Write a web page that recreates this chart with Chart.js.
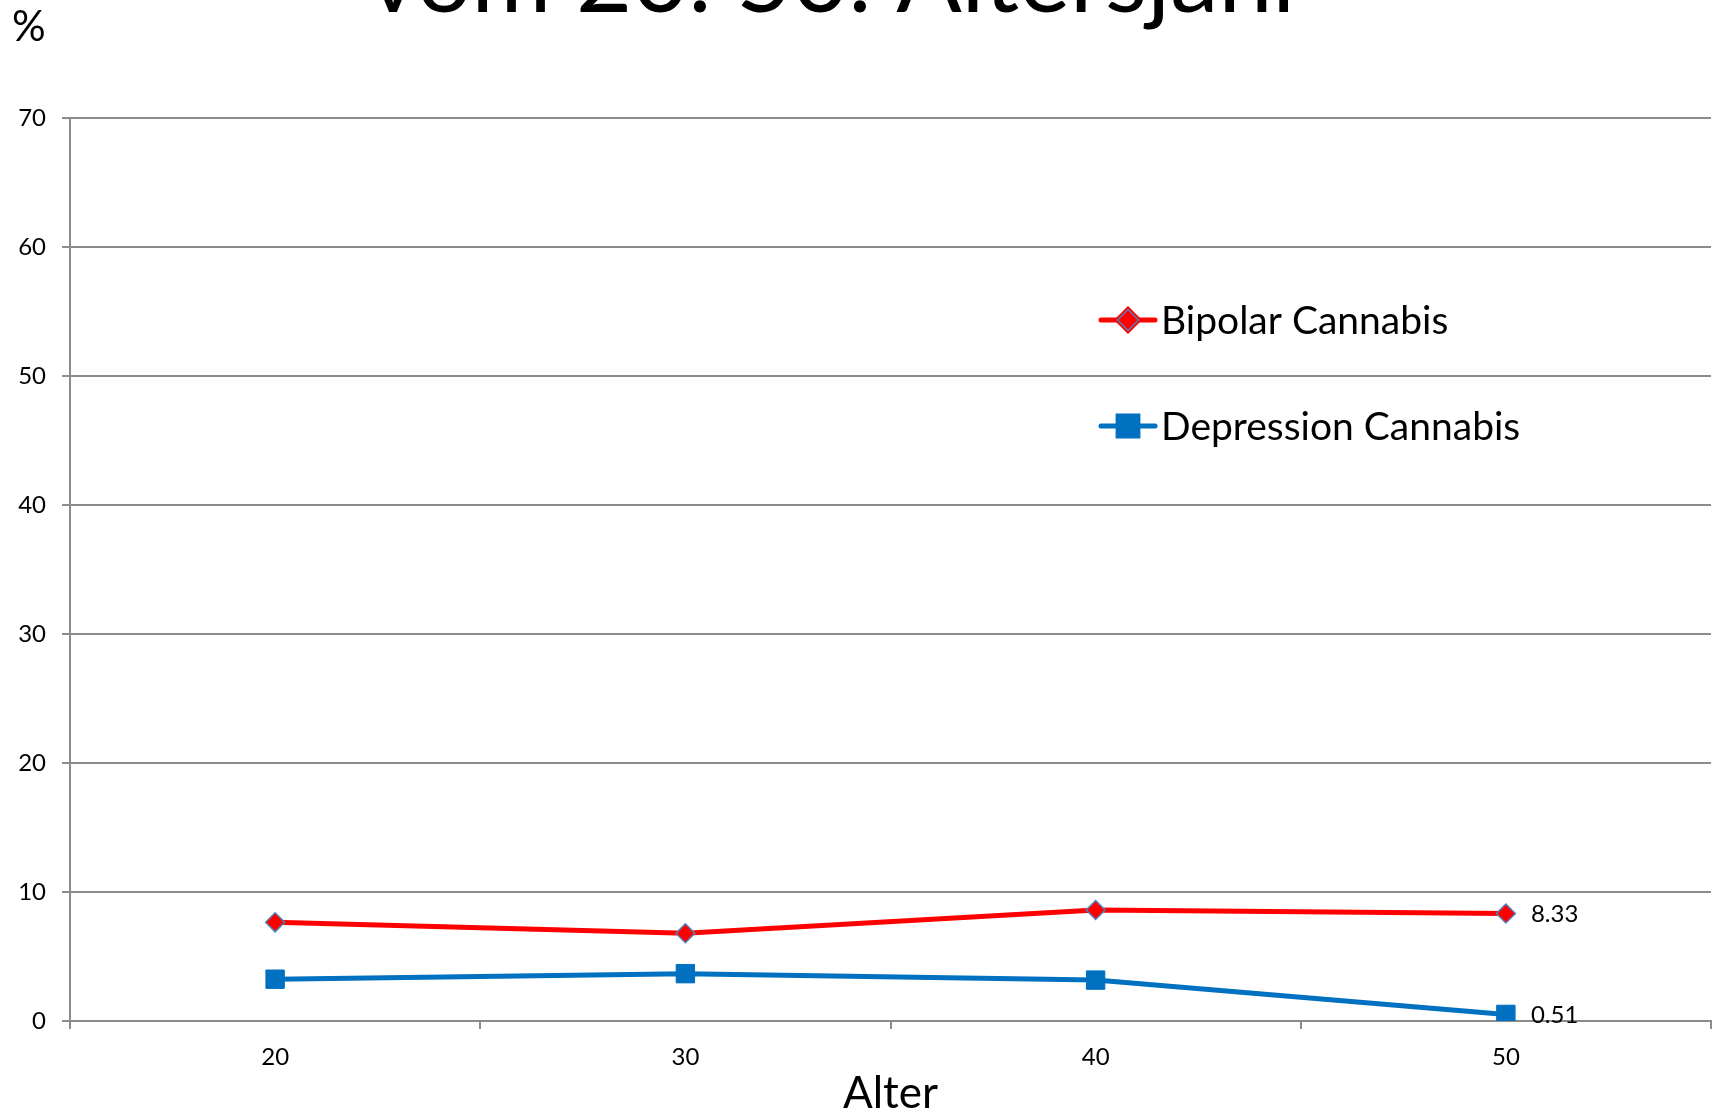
<!DOCTYPE html>
<html>
<head>
<meta charset="utf-8">
<title>Cannabis – vom 20. 50. Altersjahr</title>
<script src="https://cdn.jsdelivr.net/npm/chart.js@4/dist/chart.umd.min.js"></script>
<style>
  html, body { margin: 0; padding: 0; background: #ffffff; }
  #wrap { width: 1725px; height: 1112px; position: relative; }
</style>
</head>
<body>
<div id="wrap"><canvas id="chart" width="1725" height="1112"></canvas></div>
<script>
// Age groups (x categories)
const ages = ['20', '30', '40', '50'];

// Percentages per age group
const bipolarCannabis = [7.65, 6.8, 8.6, 8.33];
const depressionCannabis = [3.24, 3.67, 3.17, 0.51];

// Y axis range and step
const yMin = 0;
const yMax = 70;
const yStep = 10;

const chartTitle = 'vom 20. 50. Altersjahr';
const yUnit = '%';
const xTitle = 'Alter';

const FONT = 'Lato, "Open Sans", "Noto Sans", sans-serif';
const GRID = '#8c8c8c';

// Title (running off the top edge) and the unit sign
const headerPlugin = {
  id: 'header',
  afterDraw(chart) {
    const ctx = chart.ctx;
    ctx.save();
    ctx.fillStyle = '#000';
    ctx.textBaseline = 'alphabetic';
    ctx.textAlign = 'left';
    ctx.font = '100px ' + FONT;
    const w = ctx.measureText(chartTitle).width;
    const size = 100 * 940 / w;
    ctx.font = size.toFixed(1) + 'px ' + FONT;
    ctx.fillText(chartTitle, 368, 12);
    ctx.font = '42px ' + FONT;
    ctx.fillText(yUnit, 12, 41);
    ctx.restore();
  }
};

// Legend drawn inside the plot area, upper right
const innerLegend = {
  id: 'innerLegend',
  afterDraw(chart) {
    const ctx = chart.ctx;
    const x0 = 1101, x1 = 1155, tx = 1161;
    const rows = [320, 426];
    ctx.save();
    chart.data.datasets.forEach((ds, i) => {
      const y = rows[i];
      ctx.strokeStyle = ds.borderColor;
      ctx.lineWidth = ds.borderWidth;
      ctx.lineCap = 'round';
      ctx.beginPath();
      ctx.moveTo(x0, y);
      ctx.lineTo(x1, y);
      ctx.stroke();
      Chart.helpers.drawPoint(ctx, {
        pointStyle: ds.pointStyle,
        radius: ds.pointRadius + 1,
        borderWidth: ds.pointBorderWidth
      }, (x0 + x1) / 2, y);
      ctx.fillStyle = ds.pointBackgroundColor;
      ctx.strokeStyle = ds.pointBorderColor;
      ctx.lineWidth = ds.pointBorderWidth;
      ctx.fill();
      ctx.stroke();
      ctx.fillStyle = '#000';
      ctx.font = '39px ' + FONT;
      ctx.textAlign = 'left';
      ctx.textBaseline = 'middle';
      ctx.fillText(ds.label, tx, y + 1);
    });
    ctx.restore();
  }
};

// Value label next to the last point of each series
const lastValueLabels = {
  id: 'lastValueLabels',
  afterDatasetsDraw(chart) {
    const ctx = chart.ctx;
    ctx.save();
    ctx.fillStyle = '#000';
    ctx.font = '24px ' + FONT;
    ctx.textAlign = 'left';
    ctx.textBaseline = 'middle';
    chart.data.datasets.forEach((ds, i) => {
      const meta = chart.getDatasetMeta(i);
      const last = meta.data.length - 1;
      const pt = meta.data[last];
      ctx.fillText(ds.data[last].toFixed(2), pt.x + 25, pt.y + 1);
    });
    ctx.restore();
  }
};

new Chart(document.getElementById('chart'), {
  type: 'line',
  data: {
    labels: ages,
    datasets: [
      {
        label: 'Bipolar Cannabis',
        data: bipolarCannabis,
        borderColor: '#ff0000',
        borderWidth: 5,
        pointStyle: 'rectRot',
        pointRadius: 9.5,
        pointHoverRadius: 9.5,
        pointBackgroundColor: '#ff0000',
        pointBorderColor: '#4f81bd',
        pointBorderWidth: 1.5,
        tension: 0
      },
      {
        label: 'Depression Cannabis',
        data: depressionCannabis,
        borderColor: '#0070c0',
        borderWidth: 5,
        pointStyle: 'rect',
        pointRadius: 13,
        pointHoverRadius: 13,
        pointBackgroundColor: '#0070c0',
        pointBorderColor: '#0070c0',
        pointBorderWidth: 1,
        tension: 0
      }
    ]
  },
  options: {
    responsive: false,
    animation: false,
    layout: { padding: { top: 118, right: 11, left: 0, bottom: 0 } },
    plugins: {
      legend: { display: false },
      tooltip: { enabled: false },
      title: { display: false }
    },
    scales: {
      x: {
        type: 'category',
        offset: true,
        grid: {
          offset: true,
          drawOnChartArea: false,
          drawTicks: true,
          tickLength: 8,
          color: GRID,
          lineWidth: 2
        },
        border: { display: true, color: GRID, width: 2 },
        ticks: {
          color: '#000',
          font: { family: FONT, size: 24 },
          padding: 14,
          maxRotation: 0
        },
        title: {
          display: true,
          text: xTitle,
          color: '#000',
          font: { family: FONT, size: 44, lineHeight: 0.82 },
          padding: { top: 0, bottom: 0 }
        },
        afterFit(scale) { scale.height = 91; }
      },
      y: {
        min: yMin,
        max: yMax,
        grid: {
          color: GRID,
          lineWidth: 2,
          drawTicks: true,
          tickLength: 8
        },
        border: { display: true, color: GRID, width: 2 },
        ticks: {
          stepSize: yStep,
          color: '#000',
          font: { family: FONT, size: 24 },
          padding: 16
        },
        afterFit(scale) { scale.width = 70; }
      }
    }
  },
  plugins: [headerPlugin, innerLegend, lastValueLabels]
});
</script>
</body>
</html>
